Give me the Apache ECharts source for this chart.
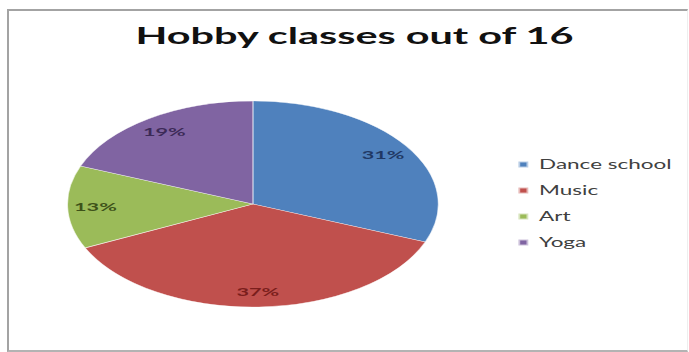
<!DOCTYPE html>
<html>
<head>
<meta charset="utf-8">
<script src="https://cdn.jsdelivr.net/npm/echarts@6/dist/echarts.min.js"></script>
<style>
  html, body { margin: 0; padding: 0; background: #fff; overflow: hidden; }
  #stage { position: relative; width: 689px; height: 352px; overflow: hidden; }
  #frame { position: absolute; left: 7px; top: 9px; width: 678px; height: 339px;
           border-left: 2px solid #a3a3a3; border-top: 2px solid #a3a3a3;
           border-bottom: 2px solid #b3b3b3; border-right: 1px solid #eeeeee; }
  #chart { position: absolute; left: 0; top: 0; width: 383px; height: 352px;
           transform: scaleX(1.8); transform-origin: 0 0; }
</style>
</head>
<body>
<div id="stage">
  <div id="frame"></div>
  <div id="chart"></div>
</div>
<script>
// ---- data ----
const titleText = 'Hobby classes out of 16';
const categories = ['Dance school', 'Music', 'Art', 'Yoga'];
const values = [31, 37, 13, 19];

// ---- styles ----
const sliceColors = ['#4F81BD', '#C0504D', '#9BBB59', '#8064A2'];
const labelColors = ['#1F3864', '#7A1E1C', '#3E5219', '#3C2A57'];

const chart = echarts.init(document.getElementById('chart'), null, { renderer: 'svg' });

const pieData = categories.map((name, i) => ({
  name: name,
  value: values[i],
  itemStyle: { color: sliceColors[i] }
}));
const labelData = categories.map((name, i) => ({
  name: name,
  value: values[i],
  itemStyle: { color: 'rgba(0,0,0,0)' },
  label: { color: labelColors[i] }
}));

chart.setOption({
  animation: false,
  color: sliceColors,
  title: {
    text: titleText,
    left: 197,
    top: 24,
    padding: 0,
    textAlign: 'center',
    textStyle: { fontFamily: 'Lato', fontWeight: 'bold', fontSize: 23, color: '#111' }
  },
  legend: {
    orient: 'vertical',
    left: 287,
    top: 158,
    padding: 0,
    itemGap: 13,
    itemWidth: 5.5,
    itemHeight: 6,
    icon: 'rect',
    data: categories,
    textStyle: { fontFamily: 'Lato', fontSize: 12.5, color: '#404040', padding: [0, 0, 0, 1] }
  },
  series: [
    {
      type: 'pie',
      name: 'slices',
      center: [140.5, 204],
      radius: [0, 103],
      startAngle: 90,
      clockwise: true,
      silent: true,
      label: { show: false },
      labelLine: { show: false },
      itemStyle: { borderColor: 'rgba(255,255,255,0.6)', borderWidth: 0.6 },
      data: pieData
    },
    {
      type: 'pie',
      name: 'labels',
      center: [140.5, 204],
      radius: [66, 103],
      startAngle: 90,
      clockwise: true,
      silent: true,
      labelLine: { show: false },
      label: {
        show: true,
        position: 'inside',
        formatter: '{c}%',
        fontFamily: 'Lato',
        fontWeight: 'bold',
        fontSize: 12
      },
      data: labelData
    }
  ]
});
</script>
</body>
</html>
